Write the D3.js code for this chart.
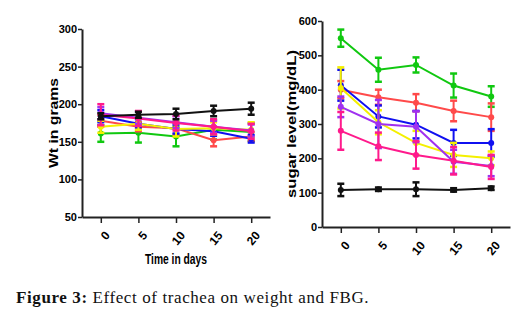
<!DOCTYPE html>
<html>
<head>
<meta charset="utf-8">
<script src="https://cdn.jsdelivr.net/npm/d3@7"></script>
<style>
    body { margin: 0; background: #fff; }
    svg { display: block; }
    .tick text { font-family: "Liberation Sans Narrow", "Liberation Sans", Arial, sans-serif; font-weight: bold; font-size: 11px; fill: #000; }
    .axistitle { font-family: "Liberation Sans Narrow", "Liberation Sans", Arial, sans-serif; font-weight: bold; fill: #000; }
    .caption { font-family: "Liberation Serif", serif; font-size: 17px; letter-spacing: 0.6px; fill: #111; }
</style>
</head>
<body>
<svg id="fig" width="532" height="319"></svg>
<script>
// x values (days)
var days = [0, 5, 10, 15, 20];
var seriesNames = ['green', 'red', 'blue', 'yellow', 'purple', 'magenta', 'black'];
var seriesColors = ['#10c810', '#ff4a4a', '#1010f0', '#f4f000', '#a030f0', '#ff1a8c', '#111111'];

// weight (g): means and error bars
var wtGreen = [161, 162, 157, 166, 163];
var wtGreenErr = [11, 13, 13, 13, 12];
var wtRed = [178, 170, 168, 152, 157];
var wtRedErr = [8, 6, 8, 8, 6];
var wtBlue = [184, 174, 167, 164, 154];
var wtBlueErr = [8, 6, 6, 6, 5];
var wtYellow = [170, 174, 167, 168, 166];
var wtYellowErr = [8, 8, 10, 8, 10];
var wtPurple = [188, 182, 176, 170, 165];
var wtPurpleErr = [8, 8, 8, 8, 8];
var wtMagenta = [186, 181, 175, 170, 164];
var wtMagentaErr = [14, 10, 10, 10, 10];
var wtBlack = [184, 186, 187, 191, 194];
var wtBlackErr = [4, 4, 7, 7, 8];

// fasting blood glucose (mg/dL)
var fbgGreen = [550, 458, 472, 412, 380];
var fbgGreenErr = [25, 35, 22, 35, 30];
var fbgRed = [400, 378, 362, 338, 320];
var fbgRedErr = [25, 22, 25, 30, 40];
var fbgBlue = [413, 322, 298, 245, 245];
var fbgBlueErr = [45, 32, 40, 38, 40];
var fbgYellow = [405, 305, 245, 210, 200];
var fbgYellowErr = [60, 35, 35, 35, 20];
var fbgPurple = [350, 300, 292, 190, 178];
var fbgPurpleErr = [30, 70, 45, 35, 30];
var fbgMagenta = [280, 235, 210, 193, 175];
var fbgMagentaErr = [55, 40, 40, 40, 35];
var fbgBlack = [108, 110, 110, 108, 113];
var fbgBlackErr = [18, 5, 20, 5, 5];

var wtTicks = [50, 100, 150, 200, 250, 300];
var fbgTicks = [0, 100, 200, 300, 400, 500, 600];

var svg = d3.select('#fig');

function buildSeries(means, errs) {
    return seriesNames.map(function(n, i) {
        return {
            name: n,
            color: seriesColors[i],
            values: days.map(function(d, j) {
                return { day: d, value: means[i][j], err: errs[i][j] };
            })
        };
    });
}

function drawPanel(opts) {
    var x = d3.scaleLinear().domain([-2.5, 22.5]).range([opts.left, opts.right]);
    var y = d3.scaleLinear().domain(opts.domain).range([opts.bottom, opts.top]);
    var g = svg.append('g');

    // axes
    var xAxis = d3.axisBottom(x).tickValues(days).tickSize(6).tickSizeOuter(0);
    var xg = g.append('g')
        .attr('transform', 'translate(0,' + opts.bottom + ')')
        .call(xAxis);
    xg.select('.domain').attr('stroke', '#222').attr('stroke-width', 2);
    xg.selectAll('.tick line').attr('stroke', '#222').attr('stroke-width', 1.5);
    xg.selectAll('.tick text')
        .attr('text-anchor', 'end')
        .attr('dy', '0.35em')
        .attr('transform', 'translate(6,16) rotate(-50)')
        .attr('y', 0)
        .attr('x', 0)
        .style('font-size', '12px');

    var yAxis = d3.axisLeft(y).tickValues(opts.ticks).tickSize(4).tickSizeOuter(0);
    var yg = g.append('g')
        .attr('transform', 'translate(' + opts.left + ',0)')
        .call(yAxis);
    yg.select('.domain').attr('stroke', '#222').attr('stroke-width', 2);
    yg.selectAll('.tick line').attr('stroke', '#222').attr('stroke-width', 1.5);
    yg.selectAll('.tick text').attr('x', -5);

    var line = d3.line()
        .x(function(d) { return x(d.day); })
        .y(function(d) { return y(d.value); });

    opts.series.forEach(function(s) {
        var sg = g.append('g');
        sg.append('path')
            .datum(s.values)
            .attr('d', line)
            .attr('fill', 'none')
            .attr('stroke', s.color)
            .attr('stroke-width', 2);

        // error bars
        var eb = sg.selectAll('.eb').data(s.values).enter().append('g');
        eb.append('line')
            .attr('x1', function(d) { return x(d.day); })
            .attr('x2', function(d) { return x(d.day); })
            .attr('y1', function(d) { return y(d.value - d.err); })
            .attr('y2', function(d) { return y(d.value + d.err); })
            .attr('stroke', s.color)
            .attr('stroke-width', 2);
        [-1, 1].forEach(function(sign) {
            eb.append('line')
                .attr('x1', function(d) { return x(d.day) - 3.5; })
                .attr('x2', function(d) { return x(d.day) + 3.5; })
                .attr('y1', function(d) { return y(d.value + sign * d.err); })
                .attr('y2', function(d) { return y(d.value + sign * d.err); })
                .attr('stroke', s.color)
                .attr('stroke-width', 2.5);
        });
        sg.selectAll('.pt').data(s.values).enter().append('circle')
            .attr('cx', function(d) { return x(d.day); })
            .attr('cy', function(d) { return y(d.value); })
            .attr('r', 3)
            .attr('fill', s.color);
    });

    // y axis title
    g.append('text')
        .attr('class', 'axistitle')
        .attr('transform', 'translate(' + opts.yLabelX + ',' + opts.yLabelY + ') rotate(-90)')
        .attr('text-anchor', 'middle')
        .attr('textLength', opts.yLabelLen)
        .attr('lengthAdjust', 'spacingAndGlyphs')
        .style('font-size', '13px')
        .text(opts.yLabel);

    if (opts.xLabel) {
        g.append('text')
            .attr('class', 'axistitle')
            .attr('x', x(10))
            .attr('y', opts.bottom + 47)
            .attr('text-anchor', 'middle')
            .attr('textLength', 62)
            .attr('lengthAdjust', 'spacingAndGlyphs')
            .style('font-size', '14px')
            .text(opts.xLabel);
    }
}

drawPanel({
    left: 82, right: 270, top: 29, bottom: 217,
    domain: [50, 300], ticks: wtTicks,
    series: buildSeries(
        [wtGreen, wtRed, wtBlue, wtYellow, wtPurple, wtMagenta, wtBlack],
        [wtGreenErr, wtRedErr, wtBlueErr, wtYellowErr, wtPurpleErr, wtMagentaErr, wtBlackErr]),
    yLabel: 'Wt in grams', yLabelX: 58, yLabelY: 123, yLabelLen: 90,
    xLabel: 'Time in days'
});

drawPanel({
    left: 322, right: 510, top: 21, bottom: 227,
    domain: [0, 600], ticks: fbgTicks,
    series: buildSeries(
        [fbgGreen, fbgRed, fbgBlue, fbgYellow, fbgPurple, fbgMagenta, fbgBlack],
        [fbgGreenErr, fbgRedErr, fbgBlueErr, fbgYellowErr, fbgPurpleErr, fbgMagentaErr, fbgBlackErr]),
    yLabel: 'sugar level(mg/dL)', yLabelX: 296, yLabelY: 124, yLabelLen: 148
});

// caption
var cap = svg.append('text')
    .attr('class', 'caption')
    .attr('x', 16)
    .attr('y', 303);
cap.append('tspan').style('font-weight', 'bold').text('Figure 3:');
cap.append('tspan').text(' Effect of trachea on weight and FBG.');
</script>
</body>
</html>
